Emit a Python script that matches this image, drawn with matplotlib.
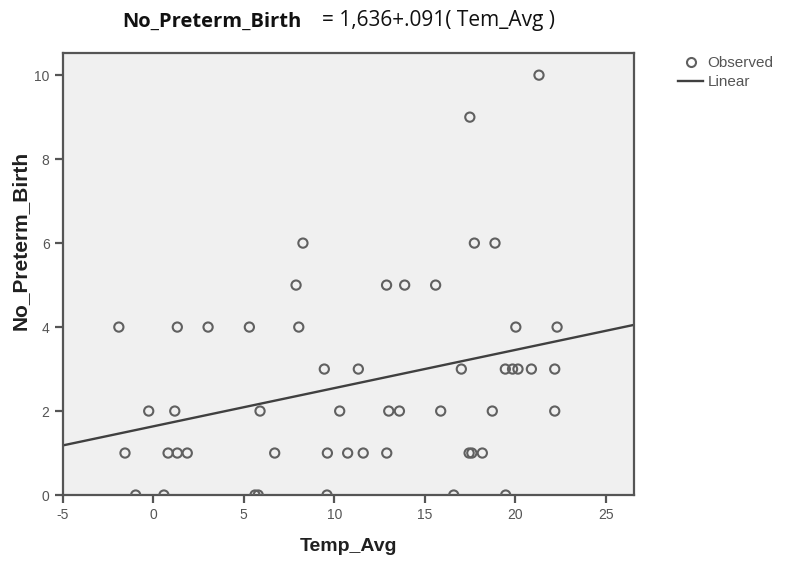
import matplotlib
matplotlib.use("Agg")
import matplotlib.pyplot as plt
import numpy as np
from matplotlib.lines import Line2D

plt.rcParams["axes.unicode_minus"] = False

# Observed data (Temp_Avg, No_Preterm_Birth)
temp_avg = [-1.9, 1.33, 3.03, 5.31, 8.04, 20.03, 22.31,
            7.89, 12.89, 13.89, 15.6,
            8.27, 17.74, 18.88,
            17.49, 21.31,
            9.45, 11.33, 17.02, 19.45, 19.85, 20.15, 20.89, 22.18,
            -0.25, 1.19, 5.9, 10.3, 13.01, 13.6, 15.88, 18.73, 22.18,
            -1.56, 0.82, 1.33, 1.88, 6.71, 9.62, 10.74, 11.6, 12.9, 17.45, 17.6, 18.18,
            -0.97, 0.59, 5.62, 5.8, 9.6, 16.6, 19.47]
preterm = [4, 4, 4, 4, 4, 4, 4,
           5, 5, 5, 5,
           6, 6, 6,
           9, 10,
           3, 3, 3, 3, 3, 3, 3, 3,
           2, 2, 2, 2, 2, 2, 2, 2, 2,
           1, 1, 1, 1, 1, 1, 1, 1, 1, 1, 1, 1,
           0, 0, 0, 0, 0, 0, 0]

intercept = 1.636
slope = 0.091
x_limits = [-5, 26.56]
y_limits = [0, 10.52]
x_ticks = [-5, 0, 5, 10, 15, 20, 25]
y_ticks = [0, 2, 4, 6, 8, 10]

fig = plt.figure(figsize=(7.88, 5.69), dpi=100)
fig.patch.set_facecolor("white")
ax = fig.add_axes([0.0796, 0.130, 0.8046 - 0.0796, 0.9063 - 0.130])
ax.set_facecolor("#f0f0f0")

ax.scatter(temp_avg, preterm, s=44, facecolors="none", edgecolors="#606060",
           linewidths=1.5, zorder=3)
xl = np.array(x_limits)
ax.plot(xl, intercept + slope * xl, color="#404040", lw=1.7, zorder=2)

ax.set_xlim(*x_limits)
ax.set_ylim(*y_limits)
ax.set_xticks(x_ticks)
ax.set_yticks(y_ticks)
for s in ax.spines.values():
    s.set_color("#555555")
    s.set_linewidth(1.6)
ax.tick_params(axis="both", colors="#555555", labelcolor="#555555",
               length=6, width=1.6, labelsize=10, direction="out")
for lab in ax.get_xticklabels() + ax.get_yticklabels():
    lab.set_family("Liberation Sans")

ax.set_xlabel("Temp_Avg", fontsize=14, fontweight="bold", family="Liberation Sans",
              color="#202020", labelpad=11)
fig.text(20 / 788, 1 - 240 / 569, "No_Preterm_Birth", rotation=90, fontsize=15,
         fontweight="bold", family="Liberation Sans", color="#202020",
         ha="center", va="center")

# Title equation
fig.text(0.155, 0.962, "No_Preterm_Birth", fontsize=14.5, fontweight="bold",
         family="Open Sans", color="#111111", va="center", ha="left")
fig.text(0.408, 0.964, "= 1,636+.091( Tem_Avg )", fontsize=15,
         family="Open Sans", color="#111111", va="center", ha="left")

handles = [Line2D([], [], marker="o", linestyle="none", markerfacecolor="none",
                  markeredgecolor="#606060", markeredgewidth=1.5, markersize=6.5),
           Line2D([], [], color="#404040", lw=1.7)]
fig.legend(handles, ["Observed", "Linear"], loc="upper left",
           bbox_to_anchor=(0.843, 0.925), frameon=False,
           handlelength=1.65, handletextpad=0.27, labelspacing=0.3,
           labelcolor="#555555", prop={"family": "Liberation Sans", "size": 11})

fig.savefig("out.png", dpi=100)
